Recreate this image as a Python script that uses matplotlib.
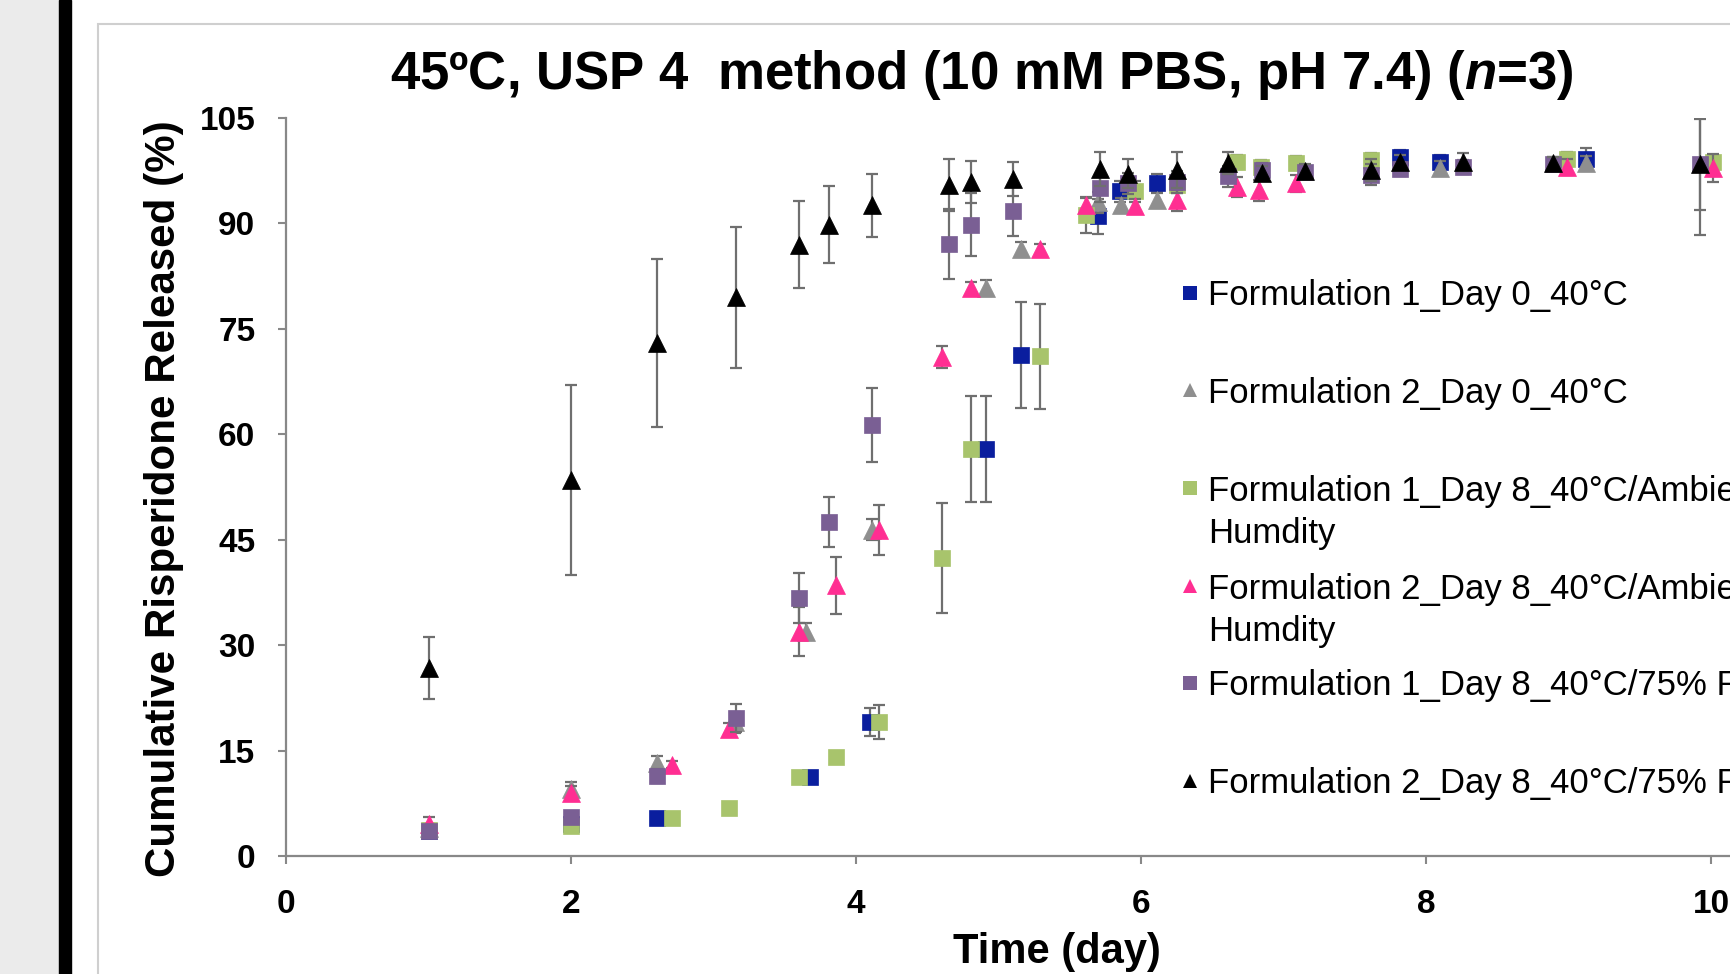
import matplotlib
matplotlib.use("Agg")
import matplotlib.pyplot as plt
from matplotlib.patches import Rectangle
from matplotlib.lines import Line2D

plt.rcParams["font.family"] = ["Liberation Sans", "DejaVu Sans"]
plt.rcParams["mathtext.fontset"] = "custom"
plt.rcParams["mathtext.it"] = "Liberation Sans:italic:bold"

W, H = 1730, 974

# ── dati (giorni, % rilasciato, deviazione) ──────────────────────────────────
f1_d0_x = [1.0, 2.0, 2.6, 3.68, 4.1, 4.91, 5.16, 5.70, 5.85, 6.11, 7.82, 8.10, 9.12]
f1_d0_y = [3.5, 4.5, 5.4, 11.3, 19.1, 57.9, 71.3, 91.0, 94.6, 95.8, 99.5, 98.7, 99.2]
f1_d0_e = [0.5, 0.5, 0.3, 0.5, 2.0, 7.6, 7.5, 2.5, 1.5, 1.2, 1.0, 1.0, 1.5]

f2_d0_x = [1.0, 2.0, 2.6, 3.15, 3.65, 4.11, 4.91, 5.16, 5.70, 5.86, 6.11, 8.10, 9.12]
f2_d0_y = [4.0, 9.5, 13.2, 19.0, 31.9, 46.4, 80.8, 86.3, 93.0, 92.6, 93.3, 97.9, 98.6]
f2_d0_e = [0.5, 1.0, 1.0, 1.5, 1.2, 1.5, 1.1, 1.0, 1.5, 1.0, 1.0, 1.0, 1.0]

f1_amb_x = [1.0, 2.0, 2.71, 3.11, 3.60, 3.86, 4.16, 4.60, 4.81, 5.29, 5.61, 5.96, 6.25,
            6.67, 6.84, 7.09, 7.61, 8.99, 10.01]
f1_amb_y = [3.7, 4.2, 5.4, 6.9, 11.3, 14.1, 19.1, 42.4, 57.9, 71.1, 91.2, 94.6, 95.4,
            98.7, 98.0, 98.6, 99.0, 99.2, 98.7]
f1_amb_e = [0.5, 0.5, 0.3, 0.4, 0.5, 0.5, 2.4, 7.8, 7.6, 7.5, 2.6, 1.5, 1.0,
            1.0, 1.0, 1.0, 1.0, 1.0, 1.0]

f2_amb_x = [1.0, 2.0, 2.71, 3.11, 3.60, 3.86, 4.16, 4.60, 4.81, 5.29, 5.61, 5.96, 6.25,
            6.67, 6.83, 7.09, 8.99, 10.01]
f2_amb_y = [4.5, 9.0, 13.0, 18.1, 31.9, 38.5, 46.4, 71.0, 80.8, 86.3, 92.6, 92.5, 93.3,
            95.2, 94.7, 95.7, 98.0, 97.9]
f2_amb_e = [1.0, 1.0, 0.5, 0.8, 3.5, 4.0, 3.6, 1.5, 0.8, 0.8, 1.0, 1.0, 1.5,
            1.4, 1.5, 1.2, 1.1, 2.0]

f1_rh_x = [1.0, 2.0, 2.6, 3.16, 3.60, 3.81, 4.11, 4.65, 4.81, 5.10, 5.71, 5.91, 6.25,
           6.61, 6.85, 7.15, 7.61, 7.82, 8.26, 8.89, 9.92]
f1_rh_y = [3.6, 5.6, 11.4, 19.6, 36.7, 47.5, 61.3, 87.1, 89.8, 91.7, 95.0, 95.7, 95.9,
           96.7, 97.6, 97.3, 96.9, 97.7, 98.0, 98.4, 98.4]
f1_rh_e = [0.5, 0.5, 1.0, 2.0, 3.5, 3.6, 5.3, 5.0, 4.5, 3.5, 2.0, 1.5, 1.5,
           1.5, 1.0, 1.0, 1.5, 1.0, 1.0, 1.0, 6.5]

f2_rh_x = [1.0, 2.0, 2.6, 3.16, 3.60, 3.81, 4.11, 4.65, 4.81, 5.10, 5.71, 5.91, 6.25,
           6.61, 6.85, 7.15, 7.61, 7.82, 8.26, 8.89, 9.92]
f2_rh_y = [26.8, 53.5, 73.0, 79.5, 87.0, 89.8, 92.6, 95.4, 95.9, 96.3, 97.7, 97.1, 97.6,
           98.6, 97.2, 97.4, 97.6, 98.7, 98.7, 98.6, 98.4]
f2_rh_e = [4.4, 13.5, 12.0, 10.0, 6.2, 5.5, 4.5, 3.7, 3.0, 2.4, 2.4, 2.0, 2.5,
           1.5, 1.0, 1.0, 1.5, 1.0, 1.3, 0.8, 10.0]

labels = ["Formulation 1_Day 0_40°C",
          "Formulation 2_Day 0_40°C",
          "Formulation 1_Day 8_40°C/Ambient\nHumdity",
          "Formulation 2_Day 8_40°C/Ambient\nHumdity",
          "Formulation 1_Day 8_40°C/75% RH",
          "Formulation 2_Day 8_40°C/75% RH"]
colors = ["#0a1e9e", "#8f8f8f", "#a8c46c", "#ff2e92", "#7a5f94", "#000000"]
markers = ["s", "^", "s", "^", "s", "^"]
series = [(f1_d0_x, f1_d0_y, f1_d0_e), (f2_d0_x, f2_d0_y, f2_d0_e),
          (f1_amb_x, f1_amb_y, f1_amb_e), (f2_amb_x, f2_amb_y, f2_amb_e),
          (f1_rh_x, f1_rh_y, f1_rh_e), (f2_rh_x, f2_rh_y, f2_rh_e)]

def fx(px): return px / W
def fy(py): return 1 - py / H

fig = plt.figure(figsize=(W / 100, H / 100), dpi=100)

# cornice dello screenshot
fig.patches.append(Rectangle((0, 0), fx(59), 1, transform=fig.transFigure,
                             color="#ebebeb", zorder=0))
fig.patches.append(Rectangle((fx(59), 0), fx(12), 1, transform=fig.transFigure,
                             color="#000000", zorder=0))
fig.patches.append(Rectangle((fx(98), -0.1), fx(1900), fy(24) + 0.1, transform=fig.transFigure,
                             fill=False, ec="#cfcfcf", lw=1.5, zorder=0))

ax = fig.add_axes([fx(286), fy(856), fx(1828 - 286), (856 - 118) / H])
ax.set_xlim(0, 10.82)
ax.set_ylim(0, 105)

for i, ((x, y, e), c, m) in enumerate(zip(series, colors, markers)):
    ax.errorbar(x, y, yerr=e, fmt="none", ecolor="#6f6f6f", elinewidth=1.6,
                capsize=4, capthick=1.6, zorder=2 + i)
    ms = 12 if m == "s" else 13.5
    ax.plot(x, y, ls="none", marker=m, ms=ms, color=c, mec=c, mew=0.5, zorder=2.5 + i)

for s in ["top", "right"]:
    ax.spines[s].set_visible(False)
for s in ["left", "bottom"]:
    ax.spines[s].set_color("#888888")
    ax.spines[s].set_linewidth(1.6)

ax.set_xticks([0, 2, 4, 6, 8, 10])
ax.set_yticks([0, 15, 30, 45, 60, 75, 90, 105])
ax.tick_params(axis="both", direction="out", length=6, width=1.5, color="#888888",
               labelsize=24)
ax.tick_params(axis="y", pad=16)
ax.tick_params(axis="x", pad=18)
for t in ax.get_xticklabels() + ax.get_yticklabels():
    t.set_fontweight("bold")

fig.text(fx(982), fy(89), "45ºC, USP 4  method (10 mM PBS, pH 7.4) ($n$=3)",
         ha="center", va="baseline", fontsize=38, fontweight="bold")
fig.text(fx(164), fy(499), "Cumulative Risperidone Released (%)", rotation=90,
         ha="center", va="center", fontsize=30.3, fontweight="bold")
fig.text(fx(1057), fy(952), "Time (day)", ha="center", va="center",
         fontsize=30, fontweight="bold")

# legenda costruita a mano: prima riga di ogni voce allineata al marcatore
leg_y = [293, 390, 488, 586, 683, 781]
for lab, c, m, yy in zip(labels, colors, markers, leg_y):
    fig.add_artist(Line2D([fx(1190)], [fy(yy)], transform=fig.transFigure, ls="none",
                          marker=m, ms=9.5, color=c, mew=0))
    for j, line in enumerate(lab.split("\n")):
        fig.text(fx(1208), fy(yy + 12.5 + 42 * j), line, ha="left", va="baseline",
                 fontsize=25)

fig.savefig("out.png", dpi=100)
